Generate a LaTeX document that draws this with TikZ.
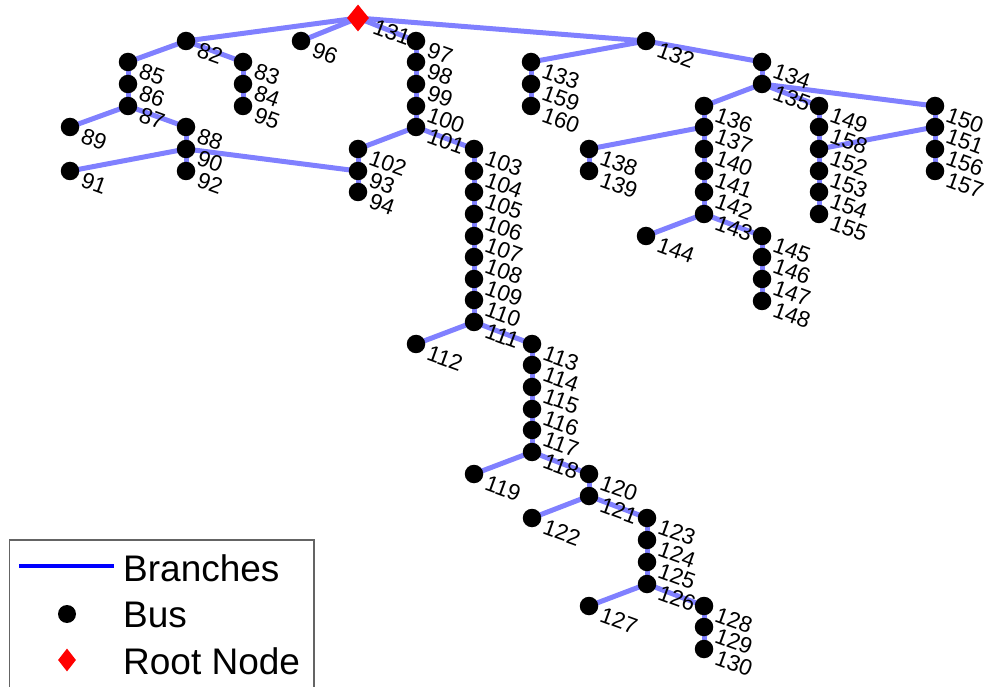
\documentclass[tikz,border=0pt]{standalone}
\usepackage{fontspec}
\setmainfont{Liberation Sans}
\usetikzlibrary{shapes.geometric,backgrounds}
\definecolor{branchc}{RGB}{128,128,255}
\definecolor{legframe}{RGB}{100,100,100}
\tikzset{
  busdot/.style={circle,fill=black,inner sep=0pt,minimum size=18.5pt},
  rootdia/.style={diamond,fill=red,inner sep=0pt,minimum width=22pt,minimum height=27pt},
  lab/.style={anchor=west,rotate=-20,inner sep=0pt,font=\fontsize{22.5}{22.5}\selectfont},
  branch/.style={draw=branchc,line width=5pt},
  legtext/.style={anchor=west,inner sep=0pt,font=\fontsize{37}{37}\selectfont}
}
\newcommand\bus[3]{\node[busdot] (n#1) at (#2,#3) {};\node[lab] (l#1) at (#2+12,#3+8) {#1};}
\newcommand\edges[1]{\foreach \a/\b in {#1} {\draw[branch] (n\a.center) -- (n\b.center);}}
\begin{document}
\begin{tikzpicture}[x=1pt,y=-1pt]
\useasboundingbox (0,0) rectangle (989,687);
% root
\node[rootdia] (n131) at (358,18) {};
\node[lab] (l131) at (358+16,18+8) {131};
% buses
\bus{96}{301}{41}
\bus{82}{186}{41}
\bus{85}{128}{62}\bus{86}{128}{84}\bus{87}{128}{106}
\bus{83}{243}{62}\bus{84}{243}{84}\bus{95}{243}{106}
\bus{89}{70}{127}
\bus{88}{186}{127}\bus{90}{186}{149}\bus{92}{186}{171}
\bus{91}{70}{171}
\bus{97}{416}{41}\bus{98}{416}{62}\bus{99}{416}{84}\bus{100}{416}{106}\bus{101}{416}{127}
\bus{102}{358}{149}\bus{93}{358}{171}\bus{94}{358}{192}
\bus{103}{474}{149}\bus{104}{474}{171}\bus{105}{474}{192}\bus{106}{474}{214}
\bus{107}{474}{236}\bus{108}{474}{257}\bus{109}{474}{279}\bus{110}{474}{300}\bus{111}{474}{322}
\bus{112}{416}{344}
\bus{113}{532}{344}\bus{114}{532}{365}\bus{115}{532}{387}\bus{116}{532}{409}\bus{117}{532}{430}\bus{118}{532}{452}
\bus{119}{474}{474}
\bus{120}{589}{474}\bus{121}{589}{496}
\bus{122}{532}{518}
\bus{123}{647}{518}\bus{124}{647}{540}\bus{125}{647}{562}\bus{126}{647}{584}
\bus{127}{589}{606}
\bus{128}{704}{606}\bus{129}{704}{627}\bus{130}{704}{649}
\bus{132}{646}{41}
\bus{133}{531}{62}\bus{159}{531}{84}\bus{160}{531}{106}
\bus{134}{762}{62}\bus{135}{762}{84}
\bus{136}{704}{106}\bus{137}{704}{127}\bus{140}{704}{149}\bus{141}{704}{171}\bus{142}{704}{192}\bus{143}{704}{214}
\bus{138}{589}{149}\bus{139}{589}{171}
\bus{144}{646}{236}
\bus{145}{762}{236}\bus{146}{762}{257}\bus{147}{762}{279}\bus{148}{762}{301}
\bus{149}{819}{106}\bus{158}{819}{127}\bus{152}{819}{149}\bus{153}{819}{171}\bus{154}{819}{192}\bus{155}{819}{214}
\bus{150}{935}{106}\bus{151}{935}{127}\bus{156}{935}{149}\bus{157}{935}{171}
% branches
\begin{pgfonlayer}{background}
\edges{131/82,131/96,131/97,131/132,
82/85,85/86,86/87,87/89,87/88,88/90,90/92,90/91,90/93,
82/83,83/84,84/95,
97/98,98/99,99/100,100/101,101/102,102/93,93/94,101/103,
103/104,104/105,105/106,106/107,107/108,108/109,109/110,110/111,
111/112,111/113,113/114,114/115,115/116,116/117,117/118,
118/119,118/120,120/121,121/122,121/123,123/124,124/125,125/126,
126/127,126/128,128/129,129/130,
132/133,133/159,159/160,132/134,134/135,135/136,135/149,135/150,
136/137,137/138,138/139,137/140,140/141,141/142,142/143,143/144,143/145,
145/146,146/147,147/148,
149/158,158/152,152/153,153/154,154/155,
150/151,151/152,151/156,156/157}
\end{pgfonlayer}
% legend
\draw[legframe,line width=1.5pt,fill=white] (9.5,540) rectangle (314,700);
\coordinate (la) at (19,566);
\coordinate (lb) at (114,566);
\draw[blue,line width=3.5pt] (la) -- (lb);
\node[legtext] (tbr) at (123,568) {Branches};
\node[busdot,minimum size=18pt] (lbus) at (67,614) {};
\node[legtext] (tbus) at (123,615) {Bus};
\node[rootdia,minimum width=18pt,minimum height=23pt] (lroot) at (67,660) {};
\node[legtext] (troot) at (123,661) {Root Node};
\end{tikzpicture}
\end{document}
